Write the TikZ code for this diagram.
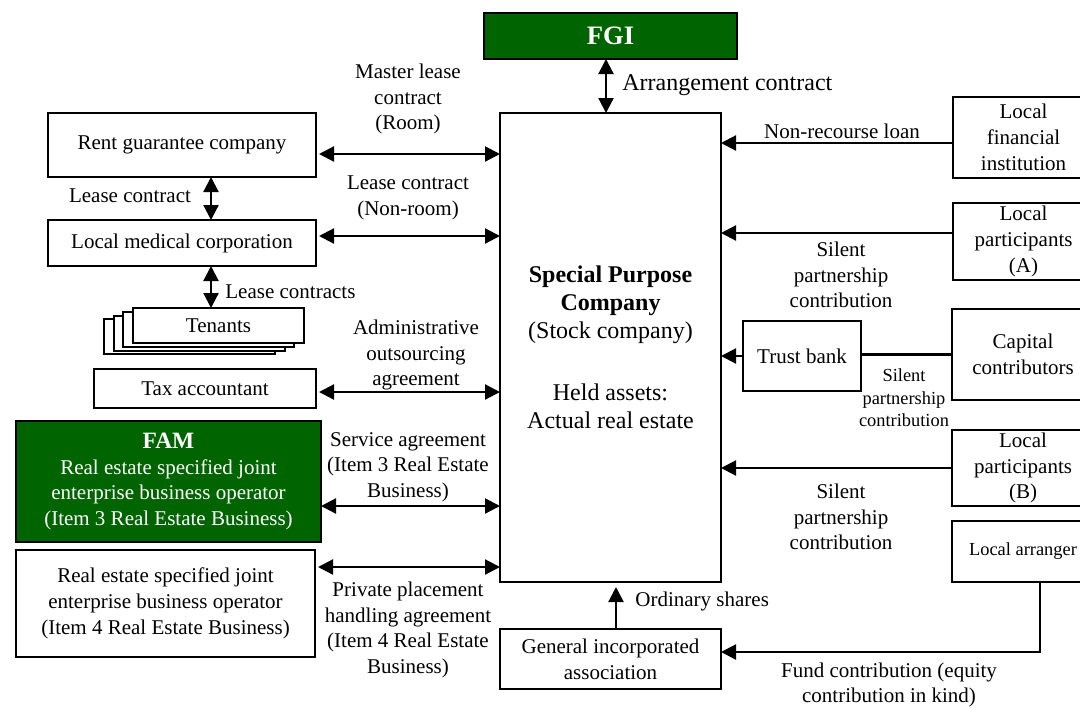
\documentclass[tikz,border=0pt]{standalone}
\usepackage{fontspec}
\setmainfont{Liberation Serif}
\usetikzlibrary{arrows.meta,calc}
\definecolor{fgreen}{RGB}{0,100,0}
\begin{document}
\begin{tikzpicture}[x=0.5pt,y=-0.5pt,
 box/.style={draw, line width=1pt, fill=white, inner sep=0pt, outer sep=0pt, align=center, font=\fontsize{10.5pt}{12.9pt}\selectfont},
 wh/.style 2 args={minimum width=#1, minimum height=#2},
 gbox/.style={box, fill=fgreen, text=white},
 sbox/.style={box, font=\fontsize{9.2pt}{11pt}\selectfont},
 lbl/.style={inner sep=0pt, align=center, font=\fontsize{10.5pt}{12.75pt}\selectfont},
 slbl/.style={lbl, font=\fontsize{9.2pt}{11.25pt}\selectfont},
 con/.style={line width=1.1pt},
 sarr/.style={con, -{Triangle[length=7.5pt,width=7.5pt]}},
 dbl/.style={con, {Triangle[length=7.5pt,width=7.5pt]}-{Triangle[length=7.5pt,width=7.5pt]}},
]
\useasboundingbox[fill=white] (0,0) rectangle (1080,707);
\clip (0,0) rectangle (1080,707);

% top / centre
\node[gbox, wh={126.5pt}{23pt}, font=\bfseries\fontsize{13.3pt}{15pt}\selectfont] (fgi) at (610.5,36) {FGI};
\node[box, wh={110.5pt}{234.5pt}, font=\fontsize{12pt}{14pt}\selectfont] (spc) at (610.5,347.5)
  {\textbf{Special Purpose}\\\textbf{Company}\\(Stock company)\\[17pt]Held assets:\\Actual real estate};
\node[box, wh={110.5pt}{30pt}] (gia) at (610.5,659) {General incorporated\\association};

% left column
\node[box, wh={134pt}{32pt}] (rent) at (182,145) {Rent guarantee company};
\node[box, wh={134pt}{23pt}] (med) at (182,243) {Local medical corporation};
\node[box, wh={85.5pt}{17.5pt}] (ten3) at (189.5,336.5) {};
\node[box, wh={85.5pt}{17.5pt}] (ten2) at (199.5,333.5) {};
\node[box, wh={85.5pt}{17.5pt}] (ten1) at (208.5,329.5) {};
\node[box, wh={85.5pt}{17.5pt}] (ten) at (218.5,325.5) {Tenants};
\node[box, wh={111pt}{19.5pt}] (tax) at (205,388.5) {Tax accountant};
\node[gbox, wh={152.5pt}{60.5pt}] (fam) at (168.5,481.5)
  {{\bfseries\fontsize{11.7pt}{13pt}\selectfont FAM}\\Real estate specified joint\\enterprise business operator\\(Item 3 Real Estate Business)};
\node[box, wh={149.5pt}{53.5pt}] (op4) at (165.5,603.5)
  {Real estate specified joint\\enterprise business operator\\(Item 4 Real Estate Business)};

% right column
\node[box, wh={70.5pt}{40.5pt}] (fin) at (1023.5,137.5) {Local\\financial\\institution};
\node[box, wh={70.5pt}{38.5pt}] (pa) at (1023.5,241.5) {Local\\participants\\(A)};
\node[box, wh={71pt}{45.5pt}] (cap) at (1023,354.5) {Capital\\contributors};
\node[box, wh={59pt}{35pt}] (trust) at (802,356) {Trust bank};
\node[box, wh={71pt}{38pt}] (pb) at (1023,468) {Local\\participants\\(B)};
\node[sbox, wh={71pt}{30.5pt}] (arr) at (1023,551.5) {Local arranger};

% connectors
\draw[dbl] ([xshift=-2.25pt]fgi.south) -- ([xshift=-2.25pt]spc.north);
\draw[dbl, shorten <=1.5pt] ([yshift=-4.5pt]rent.east) coordinate (c1) -- (c1 -| spc.west);
\draw[dbl, shorten <=1.5pt] ([yshift=3.5pt]med.east) coordinate (c2) -- (c2 -| spc.west);
\draw[dbl, shorten <=1.5pt] ([yshift=-1.75pt]tax.east) coordinate (c3) -- (c3 -| spc.west);
\draw[dbl] ([yshift=-12.25pt]fam.east) coordinate (c4) -- (c4 -| spc.west);
\draw[dbl, shorten <=1.5pt] ([yshift=18.25pt]op4.east) coordinate (c5) -- (c5 -| spc.west);
\draw[dbl] ([xshift=14.5pt]rent.south) coordinate (c6) -- (c6 |- med.north);
\draw[dbl] ([xshift=14.5pt]med.south) coordinate (c7) -- (c7 |- ten.north);

\draw[sarr] ([yshift=-2.75pt]fin.west) coordinate (c8) -- (c8 -| spc.east);
\draw[sarr] ([yshift=4.25pt]pa.west) coordinate (c9) -- (c9 -| spc.east);
\draw[con] (cap.west) -- (cap.west -| trust.east);
\draw[sarr] (trust.west) -- (trust.west -| spc.east);
\draw[sarr] (pb.west) -- (pb.west -| spc.east);
\draw[sarr] ([xshift=8.5pt]arr.south) |- ([yshift=3.5pt]gia.east);
\draw[sarr, shorten >=2.5pt] ([xshift=2.75pt]gia.north) -- ([xshift=2.75pt]spc.south);

% labels
\node[lbl, anchor=west, font=\fontsize{12pt}{14pt}\selectfont] (lArr) at (622,85) {Arrangement contract};
\node[lbl] (lMl) at (408,99) {Master lease\\contract\\(Room)};
\node[lbl] (lLcnr) at (408,198) {Lease contract\\(Non-room)};
\node[lbl] (lLc) at (130,196) {Lease contract};
\node[lbl, anchor=west] (lLcs) at (225,292) {Lease contracts};
\node[lbl] (lAdm) at (416,355) {Administrative\\outsourcing\\agreement};
\node[lbl] (lSvc) at (408,467) {Service agreement\\(Item 3 Real Estate\\Business)};
\node[lbl] (lPp) at (408,630) {Private placement\\handling agreement\\(Item 4 Real Estate\\Business)};
\node[lbl] (lNrl) at (842,131) {Non-recourse loan};
\node[lbl] (lSpa) at (841,275) {Silent\\partnership\\contribution};
\node[slbl] (lSpt) at (904,398) {Silent\\partnership\\contribution};
\node[lbl] (lSpb) at (841,517) {Silent\\partnership\\contribution};
\node[lbl, anchor=west] (lOs) at (635,601) {Ordinary shares};
\node[lbl] (lFc) at (889,685) {Fund contribution (equity\\contribution in kind)};
\end{tikzpicture}
\end{document}
